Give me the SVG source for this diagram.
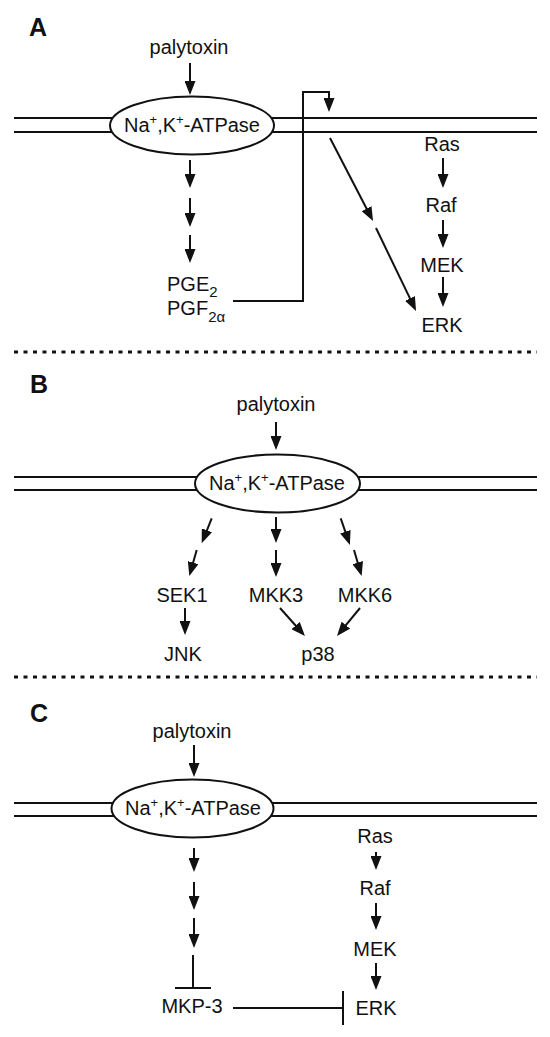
<svg xmlns="http://www.w3.org/2000/svg" width="550" height="1037" viewBox="0 0 550 1037">
<defs>
<style>
text{font-family:"Liberation Sans",Arial,sans-serif;font-size:20px;fill:#111}
.c{text-anchor:middle}
.lab{font-size:25px;font-weight:bold}
.sup{font-size:13px}
.mem line{stroke:#111;stroke-width:2}
.ell{fill:#fff;stroke:#111;stroke-width:2}
.ar{stroke:#111;stroke-width:2;fill:none;marker-end:url(#ah)}
.ln{stroke:#111;stroke-width:2;fill:none}
.dot{stroke:#111;stroke-width:3;stroke-dasharray:4 5.5}
</style>
<marker id="ah" markerWidth="14" markerHeight="11" refX="10" refY="5.5" orient="auto" markerUnits="userSpaceOnUse"><path d="M0,0 L14,5.5 L0,11 z" fill="#111"/></marker>
</defs>

<!-- separators -->
<line class="dot" x1="14" y1="352" x2="537" y2="352"/>
<line class="dot" x1="14" y1="677" x2="537" y2="677"/>

<!-- Panel A -->
<g id="panelA">
<text class="lab" x="29" y="36">A</text>
<g class="mem"><line x1="14" y1="118" x2="537" y2="118"/><line x1="14" y1="132" x2="537" y2="132"/></g>
<g id="A-atpase"><ellipse class="ell" cx="192" cy="125.5" rx="82" ry="29"/>
<text class="c" x="192" y="132">Na<tspan class="sup" dy="-8">+</tspan><tspan dy="8">,K</tspan><tspan class="sup" dy="-8">+</tspan><tspan dy="8">-ATPase</tspan></text></g>
<g id="A-palytoxin"><text class="c" x="189" y="54">palytoxin</text></g>
<g id="A-pge"><text x="167" y="291">PGE<tspan dy="6" font-size="15">2</tspan></text>
<text x="167" y="315">PGF<tspan dy="7" font-size="15">2α</tspan></text></g>
<g id="A-ras"><text class="c" x="442" y="151">Ras</text></g>
<g id="A-raf"><text class="c" x="441" y="212">Raf</text></g>
<g id="A-mek"><text class="c" x="442" y="272">MEK</text></g>
<g id="A-erk"><text class="c" x="442" y="332">ERK</text></g>
</g>
<g id="connA">
<line class="ar" x1="190" y1="63" x2="190" y2="91"/>
<line class="ar" x1="190" y1="160" x2="190" y2="184"/>
<line class="ar" x1="190" y1="198" x2="190" y2="223"/>
<line class="ar" x1="190" y1="235" x2="190" y2="259"/>
<path class="ar" d="M233,301 H303 V92 H329 V108"/>
<line class="ar" x1="330" y1="138" x2="371.2" y2="217.5"/>
<line class="ar" x1="376" y1="228" x2="414.3" y2="307.4"/>
<line class="ar" x1="443" y1="158" x2="443" y2="184"/>
<line class="ar" x1="443" y1="220" x2="443" y2="244"/>
<line class="ar" x1="443" y1="277" x2="443" y2="303"/>
</g>

<!-- Panel B -->
<g id="panelB">
<text class="lab" x="30" y="393">B</text>
<g class="mem"><line x1="14" y1="477" x2="537" y2="477"/><line x1="14" y1="490" x2="537" y2="490"/></g>
<g id="B-atpase"><ellipse class="ell" cx="277.5" cy="483.5" rx="82.5" ry="29"/>
<text class="c" x="277" y="490">Na<tspan class="sup" dy="-8">+</tspan><tspan dy="8">,K</tspan><tspan class="sup" dy="-8">+</tspan><tspan dy="8">-ATPase</tspan></text></g>
<g id="B-palytoxin"><text class="c" x="276" y="411">palytoxin</text></g>
<g id="B-sek1"><text class="c" x="182" y="602">SEK1</text></g>
<g id="B-mkk3"><text class="c" x="276" y="602">MKK3</text></g>
<g id="B-mkk6"><text class="c" x="365" y="602">MKK6</text></g>
<g id="B-jnk"><text class="c" x="183" y="661">JNK</text></g>
<g id="B-p38"><text class="c" x="318" y="661">p38</text></g>
</g>
<g id="connB">
<line class="ar" x1="276" y1="422" x2="276" y2="446"/>
<line class="ar" x1="211.7" y1="518.3" x2="203.2" y2="539.6"/>
<line class="ar" x1="196.7" y1="550" x2="190.4" y2="572.2"/>
<line class="ar" x1="276" y1="517" x2="276" y2="539"/>
<line class="ar" x1="276" y1="550" x2="276" y2="573"/>
<line class="ar" x1="340.7" y1="518.3" x2="348.6" y2="541.2"/>
<line class="ar" x1="354" y1="550" x2="360.5" y2="572.2"/>
<line class="ar" x1="185" y1="608" x2="185" y2="631"/>
<line class="ar" x1="280" y1="608" x2="302.3" y2="633"/>
<line class="ar" x1="360" y1="608" x2="339.5" y2="632.9"/>
</g>

<!-- Panel C -->
<g id="panelC">
<text class="lab" x="30" y="722">C</text>
<g class="mem"><line x1="14" y1="803" x2="537" y2="803"/><line x1="14" y1="816" x2="537" y2="816"/></g>
<g id="C-atpase"><ellipse class="ell" cx="192.5" cy="808.5" rx="81" ry="29"/>
<text class="c" x="193" y="815">Na<tspan class="sup" dy="-8">+</tspan><tspan dy="8">,K</tspan><tspan class="sup" dy="-8">+</tspan><tspan dy="8">-ATPase</tspan></text></g>
<g id="C-palytoxin"><text class="c" x="192" y="738">palytoxin</text></g>
<g id="C-mkp3"><text class="c" x="192" y="1013">MKP-3</text></g>
<g id="C-ras"><text class="c" x="375" y="843">Ras</text></g>
<g id="C-raf"><text class="c" x="375" y="895">Raf</text></g>
<g id="C-mek"><text class="c" x="375" y="956">MEK</text></g>
<g id="C-erk"><text class="c" x="376" y="1015">ERK</text></g>
</g>
<g id="connC">
<line class="ar" x1="194" y1="745" x2="194" y2="773"/>
<line class="ar" x1="194" y1="848" x2="194" y2="868"/>
<line class="ar" x1="194" y1="882" x2="194" y2="906"/>
<line class="ar" x1="194" y1="918" x2="194" y2="944"/>
<path class="ln" d="M193,955 V988 M175,988 H211"/>
<path class="ln" d="M233,1008 H343 M343,991 V1025"/>
<line class="ar" x1="376" y1="852" x2="376" y2="866"/>
<line class="ar" x1="376" y1="903" x2="376" y2="926"/>
<line class="ar" x1="376" y1="963" x2="376" y2="986"/>
</g>
</svg>
